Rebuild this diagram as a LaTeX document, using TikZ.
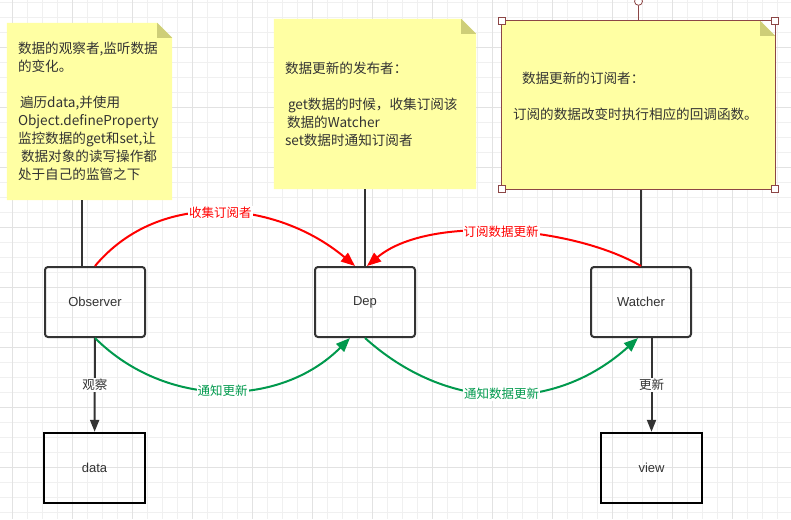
\documentclass[tikz,border=0pt]{standalone}
\usepackage{fontspec}
\setmainfont{Noto Sans CJK SC}
\newfontfamily\latinfont{Liberation Sans}
\usepackage{tikz}
\usetikzlibrary{positioning,arrows.meta,backgrounds}

\definecolor{notefill}{RGB}{255,255,163}
\definecolor{foldfill}{RGB}{206,206,120}
\definecolor{gridminor}{RGB}{240,240,240}
\definecolor{gridmajor}{RGB}{226,226,226}
\definecolor{inkgray}{RGB}{51,51,51}
\definecolor{subred}{RGB}{255,0,0}
\definecolor{notifygreen}{RGB}{0,153,77}
\definecolor{handlered}{RGB}{140,70,70}

\tikzset{
    notebox/.style={inner xsep=11pt, inner ysep=0pt, align=left,
        text=inkgray, font=\fontsize{13.6}{18}\selectfont},
    box/.style={draw=inkgray, line width=2pt, rounded corners=3pt,
        minimum width=100pt, minimum height=70pt, text=inkgray,
        font=\latinfont\fontsize{13}{15}\selectfont},
    endbox/.style={box, draw=black, line width=2.4pt, sharp corners,
        minimum width=101pt},
    link/.style={draw=inkgray, line width=2pt},
    flow/.style={link, -{Triangle[length=12pt,width=9pt]}},
    subscribe/.style={draw=subred, line width=2pt,
        -{Triangle[length=14pt,width=11pt]}},
    notify/.style={draw=notifygreen, line width=2pt,
        -{Triangle[length=14pt,width=11pt]}},
    edgelabel/.style={fill=white, inner sep=1pt,
        font=\fontsize{12.5}{14}\selectfont},
    handle/.style={draw=handlered, line width=0.8pt}
}

\begin{document}
\begin{tikzpicture}[x=1pt, y=1pt]
    \useasboundingbox (0,0) rectangle (791,-519);

    % notes
    \node[notebox, text width=143pt, minimum height=177pt
    ](obsnote) at (89.5,-111.5) {数据的观察者,监听数据\\的变化。\\[18pt]
        \hspace*{2pt}遍历data,并使用\\Object.defineProperty\\
        监控数据的get和set,让\\\hspace*{3pt}数据对象的读写操作都\\
        处于自己的监管之下};
    \node[notebox, text width=180pt, minimum height=170pt
    ](depnote) at (375,-104) {数据更新的发布者：\\[18pt]
        \hspace*{3pt}get数据的时候，收集订阅该\\
        \hspace*{2pt}数据的Watcher\\set数据时通知订阅者};
    \node[notebox, text width=251pt, minimum height=168pt
    ](watnote) at (638.5,-105) {\hspace*{9pt}数据更新的订阅者：\\[18pt]
        订阅的数据改变时执行相应的回调函数。\\\mbox{}};

    % boxes
    \node[box](obs) at (95,-302) {Observer};
    \node[box](dep) at (365,-302) {Dep};
    \node[box](wat) at (641,-302) {Watcher};
    \node[endbox](data) at (94.5,-468) {data};
    \node[endbox](view) at (651.5,-468) {view};

    % note links
    \draw[link] ([xshift=-7.5pt]obsnote.south) -- ([xshift=-13pt]obs.north);
    \draw[link] (dep.north |- depnote.south) -- (dep.north);
    \draw[link] (wat.north |- watnote.south) -- (wat.north);

    \draw[flow] (obs) -- node[edgelabel, text=inkgray]{观察} (data);
    \draw[flow] (view.north |- wat.south) -- node[edgelabel, text=inkgray]{更新}
        (view.north);

    \draw[subscribe] (obs.north) to[out=50, in=140]
        node[edgelabel, text=subred]{收集订阅者} ([xshift=-10pt]dep.north);
    \draw[subscribe] (wat.north) to[out=150, in=40, looseness=0.75]
        node[edgelabel, text=subred]{订阅数据更新} ([xshift=2pt]dep.north);

    \draw[notify] (obs.south) to[out=-45, in=-135]
        node[edgelabel, text=notifygreen]{通知更新} ([xshift=-15pt]dep.south);
    \draw[notify] (dep.south) to[out=-42, in=-138, looseness=1.05]
        node[edgelabel, text=notifygreen]{通知数据更新} ([xshift=-3pt]wat.south);

    % selection handles
    \draw[handle] (watnote.south west) rectangle (watnote.north east);
    \foreach \c in {north west, north east, south west, south east}
        \draw[handle, fill=white] (watnote.\c) ++(-3.5,-3.5) rectangle ++(7,7);
    \draw[handle] (watnote.north) -- ++(0,15.5);
    \draw[handle, fill=white] ([yshift=19.5pt]watnote.north) circle (4);

    \begin{scope}[on background layer]
        \fill[white] (0,0) rectangle (791,-519);
        \foreach \x in {12.7,27.7,...,790}
            \draw[gridminor, line width=0.8pt] (\x,0) -- (\x,-519);
        \foreach \y in {2,17,...,519}
            \draw[gridminor, line width=0.8pt] (0,-\y) -- (791,-\y);
        \foreach \x in {12.7,72.7,...,790}
            \draw[gridmajor, line width=0.8pt] (\x,0) -- (\x,-519);
        \foreach \y in {47,107,...,519}
            \draw[gridmajor, line width=0.8pt] (0,-\y) -- (791,-\y);
        \foreach \n in {obsnote,depnote,watnote} {
            \fill[notefill] (\n.south west) |- ([xshift=-15pt]\n.north east)
                -- ([yshift=-15pt]\n.north east) |- cycle;
            \fill[foldfill] ([xshift=-15pt]\n.north east)
                |- ([yshift=-15pt]\n.north east) -- cycle;
        }
    \end{scope}
\end{tikzpicture}
\end{document}
